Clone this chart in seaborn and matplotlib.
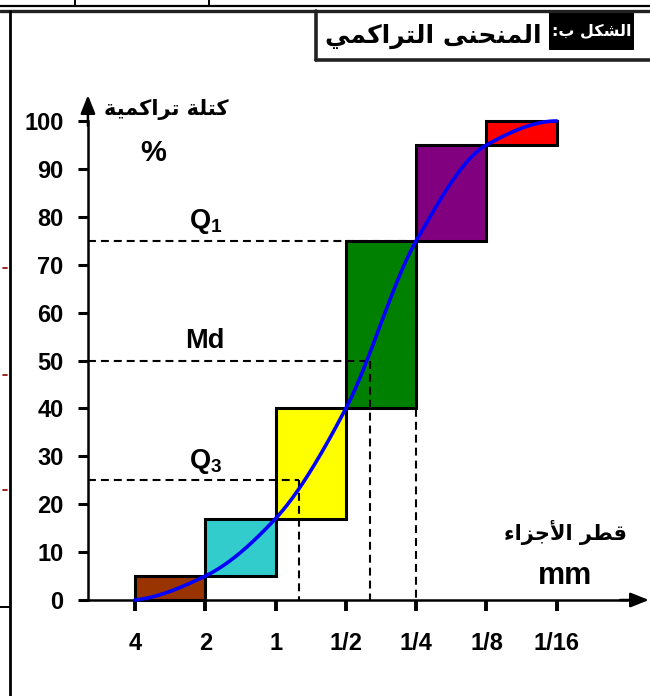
import numpy as np
import pandas as pd
import matplotlib
matplotlib.use("Agg")
import matplotlib.pyplot as plt
import seaborn as sns

sns.set_style("white")
plt.rcParams["font.family"] = ["Liberation Sans", "DejaVu Sans"]
plt.rcParams["font.weight"] = "bold"
plt.rcParams["text.color"] = "black"
plt.rcParams["xtick.color"] = "black"
plt.rcParams["ytick.color"] = "black"
plt.rcParams["mathtext.fontset"] = "custom"
plt.rcParams["mathtext.rm"] = "Liberation Sans:bold"
plt.rcParams["mathtext.it"] = "Liberation Sans:bold"
plt.rcParams["mathtext.bf"] = "Liberation Sans:bold"

# ---------------------------------------------------------------
# data
# ---------------------------------------------------------------
sizes = ["4", "2", "1", "1/2", "1/4", "1/8", "1/16"]          # grain diameter (mm)
cum_mass = [0, 5, 17, 40, 75, 95, 100]                        # cumulative mass %
class_colors = ["#993300", "#33CCCC", "#FFFF00", "#008000", "#800080", "#FF0000"]
quant_names = ["$Q_3$", "Md", "$Q_1$"]
quant_pct = [25, 50, 75]
quant_pos = [2.33, 3.34, 4.0]                                 # position on the size axis
y_ticks = [0, 10, 20, 30, 40, 50, 60, 70, 80, 90, 100]

title_tag = "الشكل ب:"
title_text = "المنحنى التراكمي"
ylabel_ar = "كتلة تراكمية"
xlabel_ar = "قطر الأجزاء"


# ---------------------------------------------------------------
# minimal arabic shaping (matplotlib has no bidi / joining)
# ---------------------------------------------------------------
FORMS = {
    "ا": ("\uFE8D", "\uFE8E", None, None),
    "أ": ("\uFE83", "\uFE84", None, None),
    "ب": ("\uFE8F", "\uFE90", "\uFE91", "\uFE92"),
    "ة": ("\uFE93", "\uFE94", None, None),
    "ت": ("\uFE95", "\uFE96", "\uFE97", "\uFE98"),
    "ج": ("\uFE9D", "\uFE9E", "\uFE9F", "\uFEA0"),
    "ح": ("\uFEA1", "\uFEA2", "\uFEA3", "\uFEA4"),
    "ر": ("\uFEAD", "\uFEAE", None, None),
    "ز": ("\uFEAF", "\uFEB0", None, None),
    "ش": ("\uFEB5", "\uFEB6", "\uFEB7", "\uFEB8"),
    "ط": ("\uFEC1", "\uFEC2", "\uFEC3", "\uFEC4"),
    "ق": ("\uFED5", "\uFED6", "\uFED7", "\uFED8"),
    "ك": ("\uFED9", "\uFEDA", "\uFEDB", "\uFEDC"),
    "ل": ("\uFEDD", "\uFEDE", "\uFEDF", "\uFEE0"),
    "م": ("\uFEE1", "\uFEE2", "\uFEE3", "\uFEE4"),
    "ن": ("\uFEE5", "\uFEE6", "\uFEE7", "\uFEE8"),
    "ى": ("\uFEEF", "\uFEF0", None, None),
    "ي": ("\uFEF1", "\uFEF2", "\uFEF3", "\uFEF4"),
    "ء": ("\uFE80", None, None, None),
    "لا": ("\uFEFB", "\uFEFC", None, None),
    "لأ": ("\uFEF7", "\uFEF8", None, None),
}


def shape(text):
    chars, i = [], 0
    while i < len(text):
        if text[i] == "ل" and i + 1 < len(text) and text[i + 1] in "اأ":
            chars.append(text[i:i + 2])
            i += 2
        else:
            chars.append(text[i])
            i += 1
    out = []
    for k, c in enumerate(chars):
        if c not in FORMS:
            out.append(c)
            continue
        iso, fin, ini, med = FORMS[c]
        prev = chars[k - 1] if k > 0 else None
        nxt = chars[k + 1] if k + 1 < len(chars) else None
        p = fin is not None and prev in FORMS and FORMS[prev][2] is not None
        n = ini is not None and nxt in FORMS and FORMS[nxt][1] is not None
        out.append(med if (p and n) else fin if p else ini if n else iso)
    return "".join(reversed(out))


def pchip(x, y, xs):
    # monotone smooth drawing of the curve through the box corners
    x = np.asarray(x, float)
    y = np.asarray(y, float)
    h = np.diff(x)
    d = np.diff(y) / h
    m = np.zeros_like(y)
    for k in range(1, len(x) - 1):
        if d[k - 1] * d[k] > 0:
            w1, w2 = 2 * h[k] + h[k - 1], h[k] + 2 * h[k - 1]
            m[k] = (w1 + w2) / (w1 / d[k - 1] + w2 / d[k])
    m0 = ((2 * h[0] + h[1]) * d[0] - h[0] * d[1]) / (h[0] + h[1])
    m[0] = m0 if m0 * d[0] > 0 else 0
    mn = ((2 * h[-1] + h[-2]) * d[-1] - h[-1] * d[-2]) / (h[-1] + h[-2])
    m[-1] = mn if mn * d[-1] > 0 else 0
    idx = np.clip(np.searchsorted(x, xs) - 1, 0, len(x) - 2)
    t = (xs - x[idx]) / h[idx]
    h00 = 2 * t**3 - 3 * t**2 + 1
    h10 = t**3 - 2 * t**2 + t
    h01 = -2 * t**3 + 3 * t**2
    h11 = t**3 - t**2
    return h00 * y[idx] + h10 * h[idx] * m[idx] + h01 * y[idx + 1] + h11 * h[idx] * m[idx + 1]


AR = ["DejaVu Sans"]

fig = plt.figure(figsize=(6.5, 6.96), dpi=100)

# page decoration layer in pixel units
deco = fig.add_axes([0, 0, 1, 1])
deco.set_xlim(0, 650)
deco.set_ylim(696, 0)
deco.axis("off")
deco.plot([0, 650], [5.5, 5.5], color="black", lw=1.6)
deco.plot([0, 650], [10.5, 10.5], color="#222222", lw=2.4)
deco.plot([75, 75], [0, 5.5], color="black", lw=1.4)
deco.plot([209, 209], [0, 5.5], color="black", lw=1.4)
deco.plot([9.5, 9.5], [10.5, 696], color="black", lw=2.0)
deco.plot([0, 9.5], [607, 607], color="black", lw=1.4)
for yy in [268, 375, 490]:
    deco.plot([3, 7], [yy, yy], color="#8B0000", lw=1.2)
# title box
deco.plot([315.5, 315.5], [10.5, 60], color="#222222", lw=2.6)
deco.plot([315.5, 650], [59.5, 59.5], color="#222222", lw=2.6)
deco.add_patch(plt.Rectangle((549, 13), 85, 37, color="black", lw=0))
deco.text(592, 32, shape(title_tag), color="white", fontsize=11.5,
          family=AR, fontweight="bold", ha="center", va="center")
deco.text(433, 36, shape(title_text), color="black", fontsize=18, family=AR,
          fontweight="bold", ha="center", va="center")

# main chart
ax = fig.add_axes([0, 0, 1, 1])
ax.patch.set_alpha(0)
ax.set_xlim(-1.920, 7.326)
ax.set_ylim(-20.04, 125.26)
axis_x = -0.669

for i, col in enumerate(class_colors):
    ax.bar(i + 0.5, cum_mass[i + 1] - cum_mass[i], bottom=cum_mass[i], width=1,
           color=col, edgecolor="black", linewidth=2.2, zorder=2)

for name, pct, pos in zip(quant_names, quant_pct, quant_pos):
    ax.plot([axis_x, pos], [pct, pct], color="black", lw=1.5, ls=(0, (3.8, 2.4)), zorder=3)
    ax.plot([pos, pos], [pct, 0], color="black", lw=1.5, ls=(0, (3.8, 2.4)), zorder=3)
    ax.text(1.0, pct + 2.6, name, fontsize=19.5, fontweight="bold", ha="center", va="baseline")

xs = np.linspace(0, len(cum_mass) - 1, 400)
df = pd.DataFrame({"x": xs, "y": pchip(range(len(cum_mass)), cum_mass, xs)})
sns.lineplot(data=df, x="x", y="y", color="#0000FF", lw=2.6, estimator=None, ax=ax, zorder=4)

# axes with arrows
for s in ["top", "right"]:
    ax.spines[s].set_visible(False)
ax.spines["left"].set_position(("data", axis_x))
ax.spines["bottom"].set_position(("data", 0))
ax.spines["left"].set_bounds(0, 100)
ax.spines["bottom"].set_bounds(axis_x, 7.0)
for s in ["left", "bottom"]:
    ax.spines[s].set_linewidth(1.8)
    ax.spines[s].set_color("black")
arrow = dict(arrowstyle="-|>,head_length=0.55,head_width=0.22", color="black",
             lw=1.8, mutation_scale=20, shrinkA=0, shrinkB=0)
ax.annotate("", xy=(axis_x, 105.4), xytext=(axis_x, 99), arrowprops=arrow)
ax.annotate("", xy=(7.31, 0), xytext=(6.9, 0), arrowprops=arrow)

ax.set_xticks(range(len(sizes)))
ax.set_xticklabels(sizes)
ax.set_yticks(y_ticks)
ax.set_yticklabels([str(v) for v in y_ticks])
ax.tick_params(axis="y", left=True, direction="out", length=7.5, width=2.2, pad=10,
               labelsize=17, colors="black")
ax.tick_params(axis="x", bottom=True, direction="out", length=8, width=2.8, pad=15,
               labelsize=17, colors="black")
ax.set_xlabel("")
ax.set_ylabel("")
ax.grid(False)

ax.text(0.44, 102.3, shape(ylabel_ar), fontsize=15, family=AR, fontweight="bold",
        ha="center", va="center")
ax.text(0.256, 93.3, "%", fontsize=21, fontweight="bold", ha="center", va="center")
ax.text(6.117, 14.0, shape(xlabel_ar), fontsize=15, family=AR, fontweight="bold",
        ha="center", va="center")
ax.text(6.117, 5.0, "mm", fontsize=22, fontweight="bold", ha="center", va="center")

fig.savefig("out.png", dpi=100)
